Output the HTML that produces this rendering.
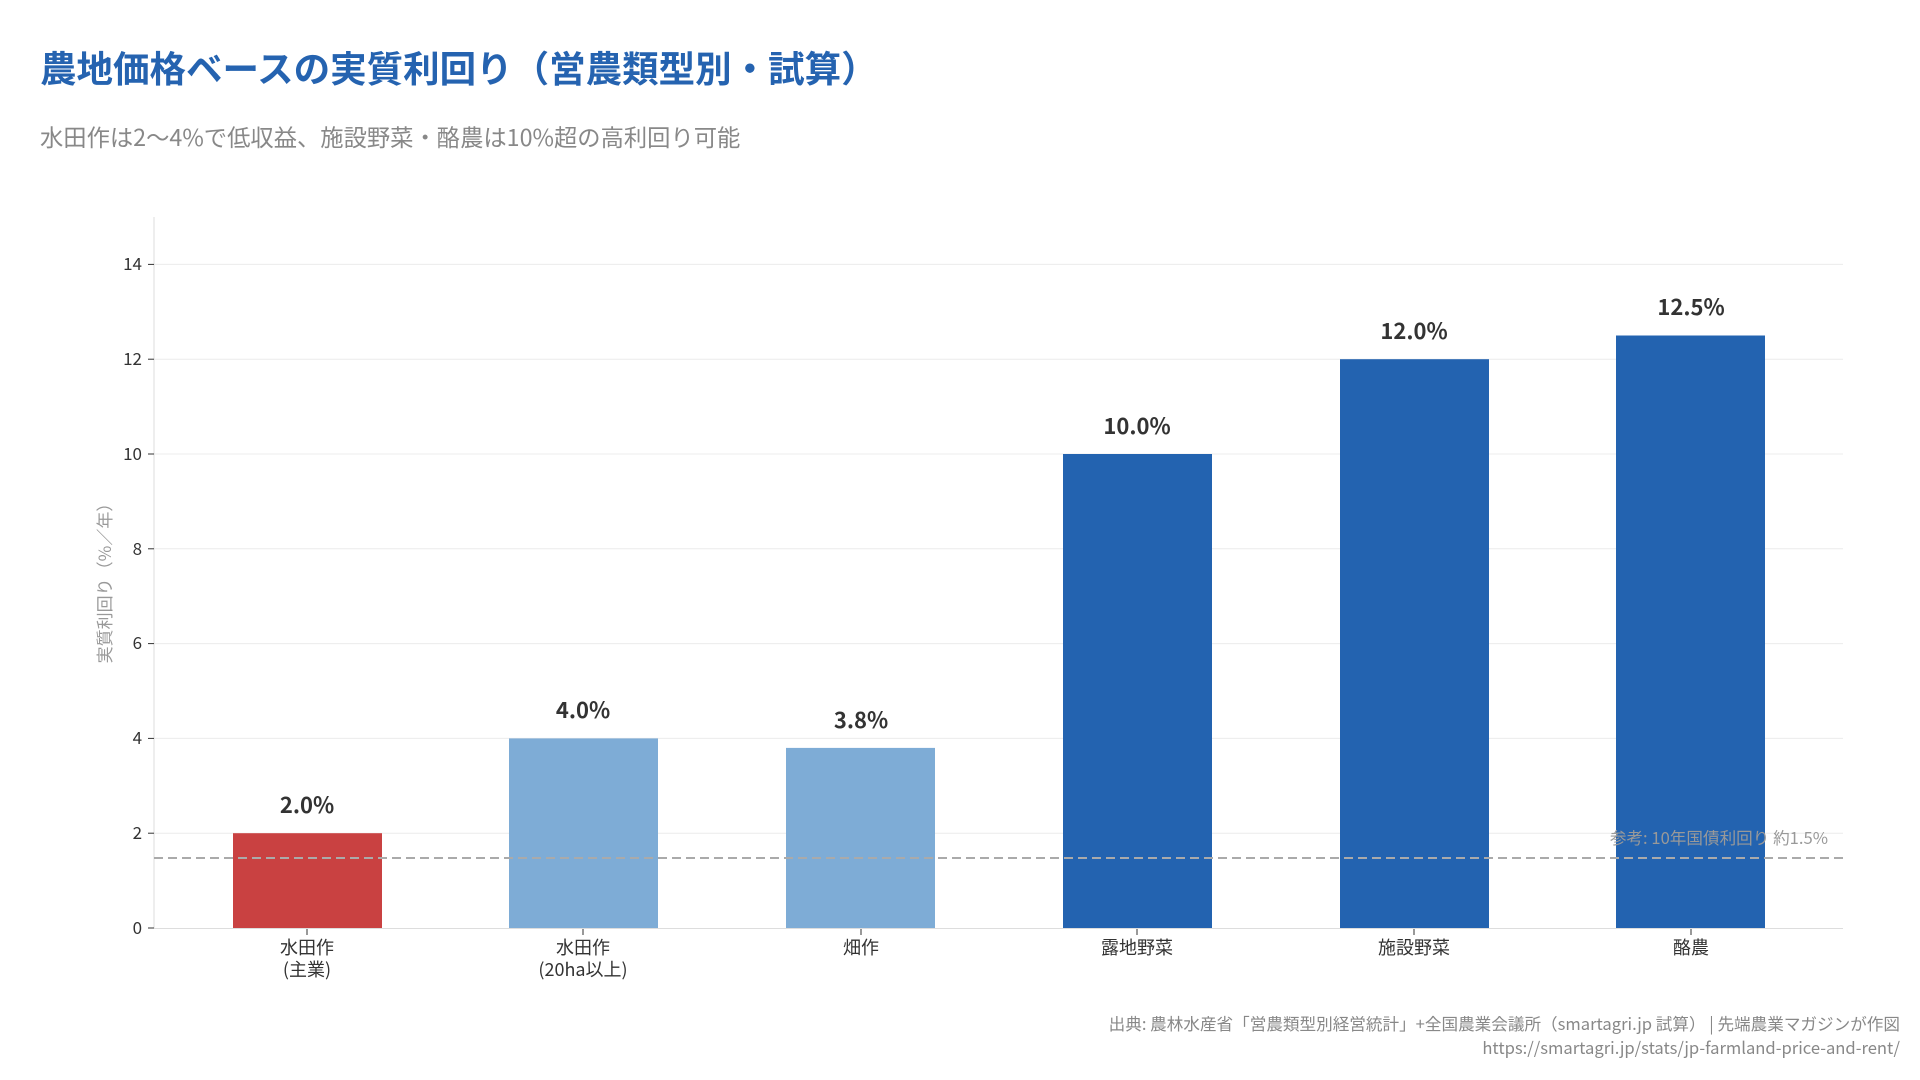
<!DOCTYPE html>
<html><head><meta charset="utf-8"><style>
html,body{margin:0;padding:0;background:#fff;}
svg{display:block;font-family:"Noto Sans CJK JP","Liberation Sans",sans-serif;}
</style></head><body>
<svg width="1920" height="1080" viewBox="0 0 1920 1080" xmlns="http://www.w3.org/2000/svg">
<text x="40" y="82" font-size="36.5" font-weight="bold" fill="#2563b0">農地価格ベースの実質利回り（営農類型別・試算）</text>
<text x="40" y="146" font-size="23.3" fill="#888">水田作は2〜4%で低収益、施設野菜・酪農は10%超の高利回り可能</text>
<g stroke="#ececec" stroke-width="1">
<line x1="154" x2="1843" y1="833.2" y2="833.2"/>
<line x1="154" x2="1843" y1="738.4" y2="738.4"/>
<line x1="154" x2="1843" y1="643.6" y2="643.6"/>
<line x1="154" x2="1843" y1="548.8" y2="548.8"/>
<line x1="154" x2="1843" y1="454" y2="454"/>
<line x1="154" x2="1843" y1="359.2" y2="359.2"/>
<line x1="154" x2="1843" y1="264.4" y2="264.4"/>
</g>
<line x1="154" x2="154" y1="217" y2="928" stroke="#ddd"/>
<line x1="154" x2="1843" y1="928.5" y2="928.5" stroke="#ddd"/>
<g stroke="#333">
<line x1="148" x2="154" y1="928" y2="928"/><line x1="148" x2="154" y1="833.2" y2="833.2"/>
<line x1="148" x2="154" y1="738.4" y2="738.4"/><line x1="148" x2="154" y1="643.6" y2="643.6"/>
<line x1="148" x2="154" y1="548.8" y2="548.8"/><line x1="148" x2="154" y1="454" y2="454"/>
<line x1="148" x2="154" y1="359.2" y2="359.2"/><line x1="148" x2="154" y1="264.4" y2="264.4"/>
</g>
<g font-size="17" fill="#333" text-anchor="end">
<text x="142" y="934">0</text><text x="142" y="839">2</text><text x="142" y="744">4</text>
<text x="142" y="649">6</text><text x="142" y="555">8</text><text x="142" y="460">10</text>
<text x="142" y="365">12</text><text x="142" y="270">14</text>
</g>
<text transform="translate(111,579) rotate(-90)" font-size="17" fill="#999" text-anchor="middle">実質利回り（%／年）</text>
<rect x="233" y="833.2" width="149" height="94.8" fill="#c94141"/>
<rect x="509" y="738.4" width="149" height="189.6" fill="#7eacd6"/>
<rect x="786" y="747.9" width="149" height="180.1" fill="#7eacd6"/>
<rect x="1063" y="454" width="149" height="474" fill="#2363b0"/>
<rect x="1340" y="359.2" width="149" height="568.8" fill="#2363b0"/>
<rect x="1616" y="335.5" width="149" height="592.5" fill="#2363b0"/>
<line x1="154" x2="1843" y1="858" y2="858" stroke="#aaa" stroke-width="2" stroke-dasharray="9,5"/>
<text x="1828" y="844" font-size="16.6" fill="#999" text-anchor="end">参考: 10年国債利回り 約1.5%</text>
<g font-size="22" font-weight="bold" fill="#333" text-anchor="middle">
<text x="307" y="813">2.0%</text><text x="583" y="718">4.0%</text><text x="861" y="728">3.8%</text>
<text x="1137" y="434">10.0%</text><text x="1414" y="339">12.0%</text><text x="1691" y="315">12.5%</text>
</g>
<g stroke="#333"><line x1="307" x2="307" y1="929" y2="935"/><line x1="583" x2="583" y1="929" y2="935"/><line x1="861" x2="861" y1="929" y2="935"/><line x1="1137" x2="1137" y1="929" y2="935"/><line x1="1414" x2="1414" y1="929" y2="935"/><line x1="1691" x2="1691" y1="929" y2="935"/></g>
<g font-size="18" fill="#333" text-anchor="middle">
<text x="307" y="954">水田作</text><text x="307" y="976">(主業)</text>
<text x="583" y="954">水田作</text><text x="583" y="976">(20ha以上)</text>
<text x="861" y="954">畑作</text><text x="1137" y="954">露地野菜</text>
<text x="1414" y="954">施設野菜</text><text x="1691" y="954">酪農</text>
</g>
<g font-size="16.6" fill="#888" text-anchor="end">
<text x="1900" y="1030">出典: 農林水産省「営農類型別経営統計」+全国農業会議所（smartagri.jp 試算） | 先端農業マガジンが作図</text>
<text x="1900" y="1054">https://smartagri.jp/stats/jp-farmland-price-and-rent/</text>
</g>
</svg>
</body></html>
